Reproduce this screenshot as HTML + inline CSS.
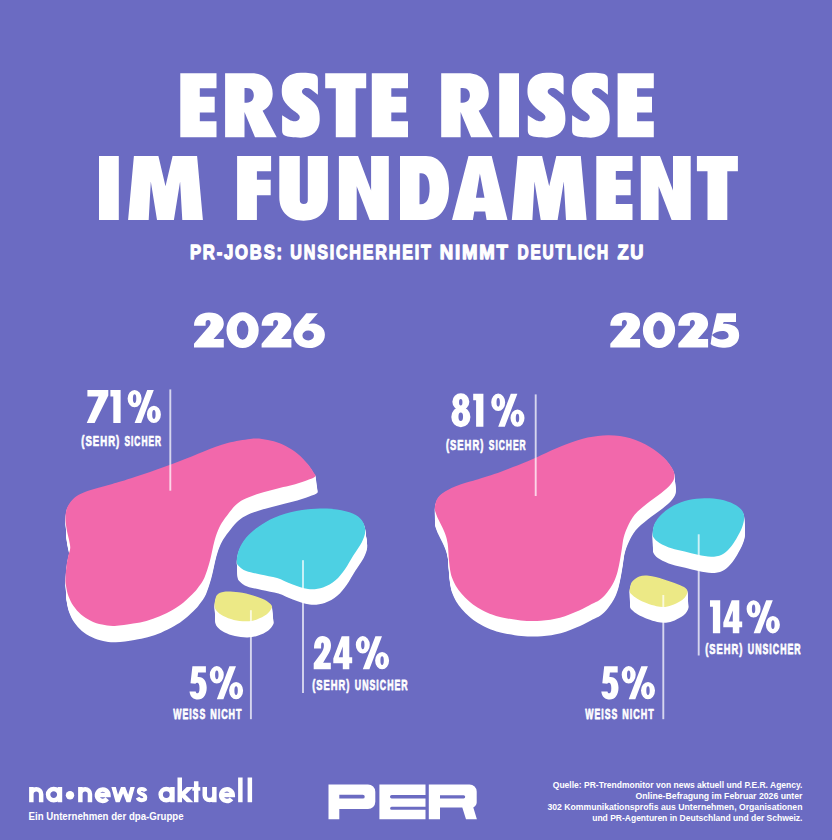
<!DOCTYPE html>
<html><head><meta charset="utf-8"><title>Erste Risse im Fundament</title>
<style>
html,body{margin:0;padding:0;background:#6b6bc2;}
body{width:832px;height:840px;overflow:hidden;font-family:'Liberation Sans', sans-serif;}
svg{display:block;font-family:'Liberation Sans', sans-serif;fill:#fff;}
</style></head><body>
<svg width="832" height="840" viewBox="0 0 832 840">
<rect width="832" height="840" fill="#6b6bc2"/>
<defs><path id="gE" d="M0 0H36.2V15.1H19.5V23.7H34.4V39.4H19.5V48H36.2V64.0H0Z"/><path id="gF" d="M0 0H34V15.2H19.8V23.8H33.6V39.2H19.8V64.0H0Z"/><path id="gT" d="M0 0H41V15.2H30.4V64.0H10.6V15.2H0Z"/><path id="gI" d="M0 0H19.8V64.0H0Z"/><path id="gR" d="M0 0H26.5C40 0 47.6 9 47.6 20.5C47.6 28.5 43.5 34.5 37.5 37.7L51.6 64.0H29.9L19.4 38.9V64.0H0Z M19.4 14.8H21.5C26.7 14.8 28.7 18.3 28.7 22.2C28.7 26.2 26.7 29.6 21.5 29.6H19.4Z"/><path id="gU" d="M0 0H20.5V44A4 4 0 0 0 28.5 44V0H48.6V41C48.6 57 38 64.7 24.3 64.7C10.6 64.7 0 57 0 41Z"/><path id="gN" d="M0.0 0.0L19.2 0.0L32.2 34.6L32.2 0.0L49.9 0.0L49.9 64.0L30.8 64.0L17.8 30.3L17.8 64.0L0.0 64.0Z"/><path id="gD" d="M0 0H26C40 0 49 13 49 32.3C49 51.5 40 64.0 26 64.0H0Z M19.5 17.3H21C27 17.3 29.6 23 29.6 32.3C29.6 42 27 48.3 21 48.3H19.5Z"/><path id="gA" d="M16.5 0.0L39.7 0.0L55.5 64.0L34.6 64.0L33.2 55.6L22.3 55.6L20.9 64.0L0.0 64.0ZM27.9 17.5L32.5 41.7L23.9 41.7Z"/><path id="gM" d="M5.8 0.0L30.3 0.0L37.4 30.2L44.5 0.0L69.0 0.0L74.8 64.0L54.2 64.0L52.0 25.6L45.8 64.0L28.9 64.0L22.7 25.6L20.6 64.0L0.0 64.0Z"/><path id="gS" d="M19.5 -0.3C27.0 -0.3 32.0 0.4 34.0 1.3C36.0 2.3 36.6 4.0 36.6 6.5L36.6 21.5L29.5 16.1C27.5 14.7 25.0 14.4 23.2 15.1C20.8 16.1 20.0 18.3 21.2 20.2C22.5 22.1 27.0 24.5 30.0 27.2C34.0 30.6 36.5 33.6 37.5 37.5C38.4 41.0 38.5 44.4 38.4 47.4C38.2 57.3 31.0 64.5 19.5 64.5C12.0 64.5 6.5 63.7 3.5 62.4C1.5 61.4 0.8 59.7 0.8 57.3L0.8 42.1L8.0 46.7C10.5 48.2 13.5 48.6 15.5 47.8C18.3 46.7 19.2 44.2 17.8 42.1C16.5 40.1 12.0 37.5 9.0 34.9C5.0 31.1 2.0 27.7 1.1 23.7C0.4 20.8 0.4 18.3 0.5 15.9C0.8 6.0 8.0 -0.3 19.5 -0.3Z"/></defs>
<g fill="#fff" fill-rule="evenodd" role="img" aria-label="ERSTE RISSE IM FUNDAMENT"><title>ERSTE RISSE IM FUNDAMENT</title>
<use href="#gE" x="180.3" y="73.15"/>
<use href="#gR" x="225.1" y="73.15"/>
<use href="#gS" x="281.3" y="73.15"/>
<use href="#gT" x="325.2" y="73.15"/>
<use href="#gE" x="371.8" y="73.15"/>
<use href="#gR" x="441.2" y="73.15"/>
<use href="#gI" x="499.2" y="73.15"/>
<use href="#gS" x="527.0" y="73.15"/>
<use href="#gS" x="571.3" y="73.15"/>
<use href="#gE" x="617.6" y="73.15"/>
<use href="#gI" x="99.0" y="155.95"/>
<use href="#gM" x="128.1" y="155.95"/>
<use href="#gF" x="237.1" y="155.95"/>
<use href="#gU" x="279.3" y="155.95"/>
<use href="#gN" x="338.9" y="155.95"/>
<use href="#gD" x="400.0" y="155.95"/>
<use href="#gA" x="452.0" y="155.95"/>
<use href="#gM" x="511.8" y="155.95"/>
<use href="#gE" x="596.3" y="155.95"/>
<use href="#gN" x="640.8" y="155.95"/>
<use href="#gT" x="696.9" y="155.95"/>
</g>
<text transform="translate(189.94 258.55) scale(0.7906 1)" font-size="21.08" font-weight="bold" letter-spacing="2.277" style="font-kerning:none" stroke="#fff" stroke-width="1.30" stroke-linejoin="round" >PR-JOBS:</text>
<text transform="translate(290.28 258.55) scale(0.7638 1)" font-size="21.08" font-weight="bold" letter-spacing="2.357" style="font-kerning:none" stroke="#fff" stroke-width="1.30" stroke-linejoin="round" >UNSICHERHEIT</text>
<text transform="translate(439.71 258.55) scale(0.8825 1)" font-size="21.08" font-weight="bold" letter-spacing="2.040" style="font-kerning:none" stroke="#fff" stroke-width="1.30" stroke-linejoin="round" >NIMMT</text>
<text transform="translate(517.52 258.55) scale(0.7318 1)" font-size="21.08" font-weight="bold" letter-spacing="2.460" style="font-kerning:none" stroke="#fff" stroke-width="1.30" stroke-linejoin="round" >DEUTLICH</text>
<text transform="translate(617.41 258.55) scale(0.8671 1)" font-size="21.08" font-weight="bold" letter-spacing="2.076" style="font-kerning:none" stroke="#fff" stroke-width="1.30" stroke-linejoin="round" >ZU</text>
<defs><path id="y2" d="M0 13C0 5 6 -0.2 15 -0.2C24.5 -0.2 29.8 4.5 29.8 10.8C29.8 15 27.5 17.5 24.5 20.6L19.5 26.3H29.8V34.7H0V31L13.2 15.8C15.3 13.5 16.6 12 16.6 10.3C16.6 8.3 15.6 7.3 14.2 7.3C12.5 7.3 11.6 8.5 11.6 10.5V13Z"/><path id="y0" d="M0.00 17.40A16.10 17.90 0 1 1 32.20 17.40A16.10 17.90 0 1 1 0.00 17.40M10.30 17.40A5.80 9.60 0 1 0 21.90 17.40A5.80 9.60 0 1 0 10.30 17.40"/><path id="y6" d="M13 0.4H24.6L15.1 11.2C17 10.6 19 10.4 21 10.8C27 12 31.6 16 31.6 21.9C31.6 30 24.5 35.3 15.7 35.3C7 35.3 0 30 0 21C0 17 2 13.5 4.5 10.8ZM9.10 22.70A5.80 5.00 0 1 0 20.70 22.70A5.80 5.00 0 1 0 9.10 22.70"/><path id="y5" d="M6.5 0.4H25.7V9.1H13.4L12.6 10.9C19 11 26 12.5 28 17.5C29.3 21 29.2 25 27.7 27.8C25.5 32.5 20.5 35 14.7 35C9 35 3.5 34 0.3 31.3L1.6 22.2Z M1.6 22.1C4 24.5 7 26.5 10.5 26.6C15 26.7 18.3 25.5 18.3 22.9C18.3 20.2 16 18.2 12 18.2C8.5 18.2 4.5 19.5 1.6 22.1Z"/></defs>
<g fill="#fff" role="img" aria-label="2026 2025"><title>2026 / 2025</title><use href="#y2" x="194.0" y="312.8"/><use href="#y0" x="226.5" y="312.8"/><use href="#y2" x="261.6" y="312.8"/><use href="#y6" x="293.3" y="312.8"/><use href="#y2" x="610.3" y="312.8"/><use href="#y0" x="642.9" y="312.8"/><use href="#y2" x="678.3" y="312.8"/><use href="#y5" x="710.3" y="312.8"/></g>
<defs><path id="p26" d="M65.5 519.8C65.4 516.4 65.5 513.2 66.3 510.2C67.1 507.2 68.4 504.5 70.5 501.9C72.6 499.3 75.4 496.8 78.8 494.8C82.2 492.8 86.3 491.5 90.7 490.0C95.1 488.5 99.9 487.4 105.0 485.9C110.1 484.4 113.9 483.5 121.4 481.2C128.9 478.9 140.2 475.3 150.0 471.9C159.8 468.5 171.0 464.4 180.0 461.0C189.0 457.6 195.9 454.4 203.8 451.4C211.7 448.4 219.9 445.2 227.6 443.1C235.3 441.0 244.3 439.7 250.0 439.0C255.7 438.3 258.0 438.5 262.0 438.9C266.0 439.3 269.9 440.1 273.8 441.3C277.8 442.5 281.7 444.0 285.7 446.1C289.7 448.2 294.0 450.9 297.6 453.8C301.2 456.7 304.5 460.3 307.1 463.3C309.7 466.3 311.8 469.5 313.1 471.7C314.5 473.9 316.2 475.0 315.2 476.4C314.2 477.8 310.4 478.9 307.1 480.2C303.8 481.5 299.2 483.0 295.2 484.2C291.2 485.4 287.5 486.1 283.3 487.1C279.1 488.2 274.4 489.3 270.0 490.5C265.6 491.7 261.1 492.8 256.7 494.3C252.3 495.8 247.2 497.7 243.6 499.6C240.0 501.5 238.0 502.9 235.2 505.6C232.4 508.3 229.4 512.4 226.9 515.7C224.4 519.0 222.3 521.6 220.4 525.2C218.5 528.8 216.9 533.1 215.6 537.1C214.3 541.1 213.6 544.8 212.6 549.0C211.6 553.2 211.0 557.3 209.6 562.1C208.2 566.9 206.2 573.9 204.3 578.0C202.5 582.1 200.2 584.6 198.5 587.0C196.8 589.4 196.5 589.9 194.0 592.5C191.5 595.1 187.0 599.5 183.5 602.4C180.0 605.3 176.9 607.4 172.9 609.7C168.9 612.0 164.1 614.4 159.7 616.3C155.3 618.2 150.8 619.7 146.4 620.9C142.0 622.1 138.5 622.7 133.2 623.5C127.9 624.3 119.9 625.7 114.7 625.9C109.5 626.1 106.0 625.4 102.1 624.6C98.2 623.8 94.6 622.6 91.1 620.9C87.6 619.2 83.9 617.0 81.0 614.5C78.1 612.0 75.6 609.2 73.5 606.1C71.4 603.0 69.7 599.5 68.4 596.0C67.1 592.5 66.4 588.1 65.9 585.1C65.4 582.1 65.4 581.1 65.5 578.1C65.6 575.1 65.9 571.0 66.3 567.4C66.7 563.8 67.4 559.9 68.1 556.7C68.8 553.5 70.0 550.9 70.2 548.3C70.4 545.7 69.8 544.2 69.3 541.2C68.8 538.2 67.5 534.1 66.9 530.5C66.3 526.9 65.6 523.2 65.5 519.8Z"/></defs>
<g fill="#fff">
<use href="#p26" transform="matrix(1.00561 0 0 1 0.433 16.400)"/>
<use href="#p26" transform="matrix(1.00526 0 0 1 0.406 15.375)"/>
<use href="#p26" transform="matrix(1.00491 0 0 1 0.379 14.350)"/>
<use href="#p26" transform="matrix(1.00456 0 0 1 0.352 13.325)"/>
<use href="#p26" transform="matrix(1.00421 0 0 1 0.325 12.300)"/>
<use href="#p26" transform="matrix(1.00385 0 0 1 0.298 11.275)"/>
<use href="#p26" transform="matrix(1.00350 0 0 1 0.270 10.250)"/>
<use href="#p26" transform="matrix(1.00315 0 0 1 0.243 9.225)"/>
<use href="#p26" transform="matrix(1.00280 0 0 1 0.216 8.200)"/>
<use href="#p26" transform="matrix(1.00245 0 0 1 0.189 7.175)"/>
<use href="#p26" transform="matrix(1.00210 0 0 1 0.162 6.150)"/>
<use href="#p26" transform="matrix(1.00175 0 0 1 0.135 5.125)"/>
<use href="#p26" transform="matrix(1.00140 0 0 1 0.108 4.100)"/>
<use href="#p26" transform="matrix(1.00105 0 0 1 0.081 3.075)"/>
<use href="#p26" transform="matrix(1.00070 0 0 1 0.054 2.050)"/>
<use href="#p26" transform="matrix(1.00035 0 0 1 0.027 1.025)"/>
</g>
<use href="#p26" fill="#f268ab"/>
<defs><path id="c26" d="M236.7 561.4C236.7 558.6 237.4 553.5 239.0 549.5C240.6 545.5 243.0 541.4 246.2 537.6C249.4 533.8 253.3 530.3 258.1 526.9C262.9 523.5 268.5 520.0 274.8 517.4C281.1 514.8 288.7 512.5 296.2 511.0C303.7 509.5 312.5 508.7 320.0 508.6C327.5 508.5 335.4 509.1 341.4 510.2C347.3 511.3 352.1 513.0 355.7 515.0C359.3 517.0 361.3 519.3 362.9 522.1C364.5 524.9 365.4 528.3 365.2 531.7C365.0 535.1 363.7 538.4 361.7 542.4C359.7 546.4 356.1 551.0 353.3 555.5C350.5 560.0 347.8 565.3 344.8 569.4C341.8 573.5 339.1 577.2 335.5 580.2C331.9 583.2 327.6 585.9 323.0 587.4C318.4 588.9 313.4 589.6 308.1 589.0C302.8 588.4 296.6 585.8 291.4 584.0C286.2 582.2 282.2 579.7 277.1 578.1C272.0 576.5 265.6 575.7 260.5 574.5C255.3 573.3 249.8 572.4 246.2 571.0C242.6 569.6 240.6 567.8 239.0 566.2C237.4 564.6 236.7 564.2 236.7 561.4Z"/></defs>
<g fill="#fff">
<use href="#c26" transform="matrix(1.00778 0 0 1 -0.842 15.500)"/>
<use href="#c26" transform="matrix(1.00730 0 0 1 -0.789 14.531)"/>
<use href="#c26" transform="matrix(1.00681 0 0 1 -0.737 13.562)"/>
<use href="#c26" transform="matrix(1.00632 0 0 1 -0.684 12.594)"/>
<use href="#c26" transform="matrix(1.00584 0 0 1 -0.632 11.625)"/>
<use href="#c26" transform="matrix(1.00535 0 0 1 -0.579 10.656)"/>
<use href="#c26" transform="matrix(1.00486 0 0 1 -0.526 9.688)"/>
<use href="#c26" transform="matrix(1.00438 0 0 1 -0.474 8.719)"/>
<use href="#c26" transform="matrix(1.00389 0 0 1 -0.421 7.750)"/>
<use href="#c26" transform="matrix(1.00340 0 0 1 -0.368 6.781)"/>
<use href="#c26" transform="matrix(1.00292 0 0 1 -0.316 5.812)"/>
<use href="#c26" transform="matrix(1.00243 0 0 1 -0.263 4.844)"/>
<use href="#c26" transform="matrix(1.00195 0 0 1 -0.211 3.875)"/>
<use href="#c26" transform="matrix(1.00146 0 0 1 -0.158 2.906)"/>
<use href="#c26" transform="matrix(1.00097 0 0 1 -0.105 1.938)"/>
<use href="#c26" transform="matrix(1.00049 0 0 1 -0.053 0.969)"/>
</g>
<use href="#c26" fill="#4dd0e3"/>
<defs><path id="y26" d="M214.6 606.0C214.4 604.1 214.8 601.4 215.3 599.5C215.8 597.6 216.0 595.7 217.5 594.4C219.0 593.1 220.7 592.1 224.2 591.7C227.7 591.4 233.9 591.7 238.7 592.3C243.5 592.9 248.8 594.2 253.1 595.4C257.4 596.6 261.6 598.1 264.6 599.7C267.6 601.3 270.2 603.5 271.3 605.0C272.4 606.5 272.1 607.2 271.3 608.8C270.5 610.4 268.9 612.8 266.5 614.6C264.1 616.4 260.3 618.3 256.9 619.4C253.5 620.5 250.2 621.2 246.3 621.3C242.5 621.4 237.6 620.8 233.8 619.9C230.0 619.0 226.2 617.6 223.3 616.1C220.4 614.6 217.9 612.5 216.5 610.8C215.1 609.1 214.8 607.9 214.6 606.0Z"/></defs>
<g fill="#fff">
<use href="#y26" transform="matrix(1.01411 0 0 1 -2.228 16.200)"/>
<use href="#y26" transform="matrix(1.01323 0 0 1 -2.089 15.188)"/>
<use href="#y26" transform="matrix(1.01235 0 0 1 -1.949 14.175)"/>
<use href="#y26" transform="matrix(1.01146 0 0 1 -1.810 13.162)"/>
<use href="#y26" transform="matrix(1.01058 0 0 1 -1.671 12.150)"/>
<use href="#y26" transform="matrix(1.00970 0 0 1 -1.532 11.137)"/>
<use href="#y26" transform="matrix(1.00882 0 0 1 -1.392 10.125)"/>
<use href="#y26" transform="matrix(1.00794 0 0 1 -1.253 9.112)"/>
<use href="#y26" transform="matrix(1.00705 0 0 1 -1.114 8.100)"/>
<use href="#y26" transform="matrix(1.00617 0 0 1 -0.975 7.087)"/>
<use href="#y26" transform="matrix(1.00529 0 0 1 -0.835 6.075)"/>
<use href="#y26" transform="matrix(1.00441 0 0 1 -0.696 5.062)"/>
<use href="#y26" transform="matrix(1.00353 0 0 1 -0.557 4.050)"/>
<use href="#y26" transform="matrix(1.00265 0 0 1 -0.418 3.037)"/>
<use href="#y26" transform="matrix(1.00176 0 0 1 -0.278 2.025)"/>
<use href="#y26" transform="matrix(1.00088 0 0 1 -0.139 1.012)"/>
</g>
<use href="#y26" fill="#ece986"/>
<defs><path id="p25" d="M434.8 508.5C434.8 506.1 435.5 502.6 436.5 500.2C437.5 497.8 438.8 496.2 440.9 494.4C442.9 492.6 445.4 491.1 448.8 489.4C452.2 487.7 456.6 485.9 461.0 484.3C465.4 482.7 468.8 482.1 475.5 480.0C482.2 477.9 492.4 474.8 501.0 471.7C509.6 468.6 519.6 464.7 527.1 461.6C534.6 458.5 539.7 455.8 546.0 453.0C552.3 450.2 558.1 447.4 565.0 444.8C571.9 442.2 580.3 439.2 587.6 437.6C594.9 436.0 601.9 435.1 609.0 435.2C616.1 435.3 623.8 436.4 630.5 438.3C637.2 440.2 644.0 443.5 649.5 446.7C655.0 449.9 660.0 453.8 663.8 457.4C667.6 461.0 670.3 464.9 672.1 468.1C673.9 471.3 674.7 473.8 674.5 476.4C674.3 479.0 673.2 481.2 671.0 484.0C668.8 486.8 665.1 490.0 661.0 493.3C656.9 496.6 650.9 500.4 646.5 504.0C642.1 507.6 637.8 511.0 634.6 514.8C631.5 518.6 629.4 523.1 627.6 526.8C625.8 530.5 624.8 533.5 623.8 537.1C622.8 540.7 622.5 544.8 621.9 548.6C621.3 552.4 620.7 556.2 620.0 560.0C619.3 563.8 618.6 567.8 617.6 571.4C616.6 575.0 615.5 578.4 613.8 581.9C612.0 585.4 609.5 589.4 607.1 592.4C604.7 595.4 602.1 598.1 599.5 600.0C596.9 601.9 595.1 602.2 591.7 604.0C588.3 605.8 584.5 608.3 579.2 610.6C573.9 612.9 566.4 616.1 560.0 617.8C553.6 619.5 547.5 620.3 541.0 620.8C534.5 621.2 527.6 621.1 520.8 620.5C514.0 619.9 505.6 618.2 500.0 616.9C494.4 615.6 490.6 614.1 486.9 612.5C483.1 610.9 480.5 609.4 477.5 607.5C474.5 605.6 471.4 603.3 468.8 601.0C466.2 598.7 463.8 596.3 461.6 593.8C459.5 591.3 457.5 588.7 455.9 585.9C454.3 583.1 452.8 579.8 451.9 577.2C450.9 574.6 450.7 573.1 450.2 570.5C449.7 567.9 449.4 564.8 449.1 561.8C448.8 558.8 448.6 555.4 448.4 552.4C448.2 549.4 448.1 546.5 447.7 543.8C447.3 541.0 446.8 538.7 445.9 535.9C445.0 533.1 443.5 529.9 442.3 527.2C441.1 524.6 439.7 522.1 438.7 520.0C437.7 517.9 436.9 516.4 436.3 514.5C435.7 512.6 434.8 510.9 434.8 508.5Z"/></defs>
<g fill="#fff">
<use href="#p25" transform="matrix(1.00459 0 0 1 -1.795 15.500)"/>
<use href="#p25" transform="matrix(1.00430 0 0 1 -1.683 14.531)"/>
<use href="#p25" transform="matrix(1.00402 0 0 1 -1.571 13.562)"/>
<use href="#p25" transform="matrix(1.00373 0 0 1 -1.459 12.594)"/>
<use href="#p25" transform="matrix(1.00344 0 0 1 -1.346 11.625)"/>
<use href="#p25" transform="matrix(1.00315 0 0 1 -1.234 10.656)"/>
<use href="#p25" transform="matrix(1.00287 0 0 1 -1.122 9.688)"/>
<use href="#p25" transform="matrix(1.00258 0 0 1 -1.010 8.719)"/>
<use href="#p25" transform="matrix(1.00229 0 0 1 -0.898 7.750)"/>
<use href="#p25" transform="matrix(1.00201 0 0 1 -0.785 6.781)"/>
<use href="#p25" transform="matrix(1.00172 0 0 1 -0.673 5.812)"/>
<use href="#p25" transform="matrix(1.00143 0 0 1 -0.561 4.844)"/>
<use href="#p25" transform="matrix(1.00115 0 0 1 -0.449 3.875)"/>
<use href="#p25" transform="matrix(1.00086 0 0 1 -0.337 2.906)"/>
<use href="#p25" transform="matrix(1.00057 0 0 1 -0.224 1.938)"/>
<use href="#p25" transform="matrix(1.00029 0 0 1 -0.112 0.969)"/>
</g>
<use href="#p25" fill="#f268ab"/>
<defs><path id="c25" d="M652.7 532.3C652.9 529.9 653.3 526.2 654.9 523.1C656.5 520.0 659.0 516.8 662.2 513.8C665.4 510.8 669.7 507.5 674.1 505.2C678.5 502.9 683.5 501.1 688.6 499.9C693.7 498.7 699.2 498.3 704.5 498.2C709.8 498.1 715.5 498.6 720.4 499.5C725.2 500.4 730.1 502.2 733.6 503.9C737.1 505.6 739.7 507.6 741.5 509.8C743.3 512.0 744.1 514.2 744.2 517.1C744.3 520.0 743.5 523.4 742.2 527.0C740.9 530.6 738.3 535.4 736.2 538.9C734.1 542.4 732.0 545.6 729.6 548.2C727.2 550.9 724.8 553.4 721.7 554.8C718.6 556.2 715.1 556.8 711.1 556.8C707.1 556.8 702.3 555.7 697.9 554.8C693.5 553.9 689.1 552.6 684.7 551.5C680.3 550.4 675.6 549.6 671.4 548.2C667.2 546.8 662.5 544.7 659.5 542.9C656.5 541.1 654.7 539.4 653.6 537.6C652.5 535.8 652.5 534.7 652.7 532.3Z"/></defs>
<g fill="#fff">
<use href="#c25" transform="matrix(1.00437 0 0 1 -2.453 16.300)"/>
<use href="#c25" transform="matrix(1.00410 0 0 1 -2.300 15.281)"/>
<use href="#c25" transform="matrix(1.00383 0 0 1 -2.147 14.263)"/>
<use href="#c25" transform="matrix(1.00355 0 0 1 -1.993 13.244)"/>
<use href="#c25" transform="matrix(1.00328 0 0 1 -1.840 12.225)"/>
<use href="#c25" transform="matrix(1.00301 0 0 1 -1.687 11.206)"/>
<use href="#c25" transform="matrix(1.00273 0 0 1 -1.533 10.188)"/>
<use href="#c25" transform="matrix(1.00246 0 0 1 -1.380 9.169)"/>
<use href="#c25" transform="matrix(1.00219 0 0 1 -1.227 8.150)"/>
<use href="#c25" transform="matrix(1.00191 0 0 1 -1.073 7.131)"/>
<use href="#c25" transform="matrix(1.00164 0 0 1 -0.920 6.113)"/>
<use href="#c25" transform="matrix(1.00137 0 0 1 -0.767 5.094)"/>
<use href="#c25" transform="matrix(1.00109 0 0 1 -0.613 4.075)"/>
<use href="#c25" transform="matrix(1.00082 0 0 1 -0.460 3.056)"/>
<use href="#c25" transform="matrix(1.00055 0 0 1 -0.307 2.038)"/>
<use href="#c25" transform="matrix(1.00027 0 0 1 -0.153 1.019)"/>
</g>
<use href="#c25" fill="#4dd0e3"/>
<defs><path id="y25" d="M629.6 591.0C629.5 589.5 630.1 586.8 630.6 585.2C631.1 583.6 631.1 582.8 632.5 581.3C633.9 579.8 636.5 577.4 639.2 576.5C641.9 575.6 644.8 575.3 648.8 575.8C652.8 576.2 658.5 577.8 663.3 579.2C668.1 580.6 674.0 582.8 677.7 584.2C681.4 585.7 683.8 586.7 685.4 587.9C687.0 589.1 687.4 590.2 687.5 591.4C687.6 592.6 687.1 593.9 686.3 595.3C685.5 596.7 684.6 598.2 682.5 599.8C680.4 601.3 676.7 603.4 673.8 604.6C670.9 605.8 668.1 606.6 665.2 606.9C662.3 607.2 659.5 606.8 656.5 606.2C653.5 605.6 650.1 604.5 646.9 603.3C643.7 602.0 639.9 600.2 637.3 598.7C634.7 597.2 632.8 595.6 631.5 594.3C630.2 593.0 629.8 592.5 629.6 591.0Z"/></defs>
<g fill="#fff">
<use href="#y25" transform="matrix(1.00691 0 0 1 -3.850 15.800)"/>
<use href="#y25" transform="matrix(1.00648 0 0 1 -3.609 14.812)"/>
<use href="#y25" transform="matrix(1.00604 0 0 1 -3.368 13.825)"/>
<use href="#y25" transform="matrix(1.00561 0 0 1 -3.128 12.838)"/>
<use href="#y25" transform="matrix(1.00518 0 0 1 -2.887 11.850)"/>
<use href="#y25" transform="matrix(1.00475 0 0 1 -2.647 10.863)"/>
<use href="#y25" transform="matrix(1.00432 0 0 1 -2.406 9.875)"/>
<use href="#y25" transform="matrix(1.00389 0 0 1 -2.165 8.888)"/>
<use href="#y25" transform="matrix(1.00345 0 0 1 -1.925 7.900)"/>
<use href="#y25" transform="matrix(1.00302 0 0 1 -1.684 6.913)"/>
<use href="#y25" transform="matrix(1.00259 0 0 1 -1.444 5.925)"/>
<use href="#y25" transform="matrix(1.00216 0 0 1 -1.203 4.938)"/>
<use href="#y25" transform="matrix(1.00173 0 0 1 -0.962 3.950)"/>
<use href="#y25" transform="matrix(1.00130 0 0 1 -0.722 2.963)"/>
<use href="#y25" transform="matrix(1.00086 0 0 1 -0.481 1.975)"/>
<use href="#y25" transform="matrix(1.00043 0 0 1 -0.241 0.988)"/>
</g>
<use href="#y25" fill="#ece986"/>
<rect x="169.35" y="389.4" width="1.90" height="101.3" fill="#fff" fill-opacity="0.72"/>
<rect x="302.05" y="560.2" width="1.90" height="132.8" fill="#fff" fill-opacity="0.72"/>
<rect x="249.95" y="610.2" width="1.90" height="109.0" fill="#fff" fill-opacity="0.72"/>
<rect x="534.75" y="394.4" width="1.90" height="101.6" fill="#fff" fill-opacity="0.72"/>
<rect x="697.75" y="534.3" width="1.90" height="121.2" fill="#fff" fill-opacity="0.72"/>
<rect x="662.35" y="595.0" width="1.90" height="124.2" fill="#fff" fill-opacity="0.72"/>
<defs><path id="d7" d="M0.7 0H21.6V5.5L7.9 33H0L11.9 6.5H0.7Z"/><path id="d1" d="M0 0H10.2V33H2.9V6.5H0Z"/><path id="d2" d="M0.3 12.4C0.3 4 4 -0.2 8.8 -0.2C13.8 -0.2 17.3 3.5 17.3 9C17.3 12.5 16.5 14.5 15.2 16.8L9.4 26.6H17.1V33H0V27L7.8 16.5C9.3 14 10.2 11.8 10.2 9.5C10.2 7.5 9.7 6.4 8.8 6.4C7.8 6.4 7.4 7.6 7.4 9.5V12.4Z"/><path id="d4" d="M8.4 0H16V21.1H18.9V27H16V33H9.5V27H0V22.2Z M9.5 10.3L5.4 21.1H9.5Z"/><path id="d5" d="M2.9 0H16.4V6.3H8.6L8.1 10.8C13.5 10 17.2 14.5 17.2 21.5C17.2 28.5 13.8 33.3 8.5 33.3C4 33.3 0.5 30.5 0 25.2H6.2C6.4 26.5 7 27.1 8 27.1C9.3 27.1 10 25.2 10 22C10 18.5 9.2 16.6 7.6 16.6C6.8 16.6 6.3 17 6 17.6L1 17Z"/><path id="d8" d="M1.05 8.10A8.50 8.50 0 1 1 18.05 8.10A8.50 8.50 0 1 1 1.05 8.10M0.00 23.30A9.55 10.20 0 1 1 19.10 23.30A9.55 10.20 0 1 1 0.00 23.30M7.75 8.60A1.70 3.30 0 1 0 11.15 8.60A1.70 3.30 0 1 0 7.75 8.60M7.15 23.00A2.30 4.20 0 1 0 11.75 23.00A2.30 4.20 0 1 0 7.15 23.00"/><path id="dp" d="M0.00 8.60A7.00 8.70 0 1 1 14.00 8.60A7.00 8.70 0 1 1 0.00 8.60M5.30 8.60A1.70 4.40 0 1 0 8.70 8.60A1.70 4.40 0 1 0 5.30 8.60M19.30 24.40A7.00 8.70 0 1 1 33.30 24.40A7.00 8.70 0 1 1 19.30 24.40M24.60 24.40A1.70 4.40 0 1 0 28.00 24.40A1.70 4.40 0 1 0 24.60 24.40M19.6 0H26.2L13.6 33H7Z"/></defs>
<g fill="#fff">
<g role="img" aria-label="71%"><title>71%</title><use href="#d7" x="86.7" y="390.0"/><use href="#d1" x="110.4" y="390.0"/><use href="#dp" x="127.6" y="390.0"/></g>
<g role="img" aria-label="24%"><title>24%</title><use href="#d2" x="313.7" y="636.2"/><use href="#d4" x="333.3" y="636.2"/><use href="#dp" x="355.8" y="636.2"/></g>
<g role="img" aria-label="5%"><title>5%</title><use href="#d5" x="189.5" y="666.2"/><use href="#dp" x="209.8" y="666.2"/></g>
<g role="img" aria-label="81%"><title>81%</title><use href="#d8" x="451.3" y="393.7"/><use href="#d1" x="473.2" y="393.7"/><use href="#dp" x="491.2" y="393.7"/></g>
<g role="img" aria-label="14%"><title>14%</title><use href="#d1" x="710.0" y="600.3"/><use href="#d4" x="723.3" y="600.3"/><use href="#dp" x="746.6" y="600.3"/></g>
<g role="img" aria-label="5%"><title>5%</title><use href="#d5" x="601.3" y="666.2"/><use href="#dp" x="621.7" y="666.2"/></g>
</g>
<text transform="translate(81.20 445.73) scale(0.6515 1)" font-size="14.75" font-weight="bold" letter-spacing="1.535" style="font-kerning:none" stroke="#fff" stroke-width="0.75" stroke-linejoin="round" >(SEHR)</text>
<text transform="translate(124.43 445.73) scale(0.5680 1)" font-size="14.75" font-weight="bold" letter-spacing="1.760" style="font-kerning:none" stroke="#fff" stroke-width="0.75" stroke-linejoin="round" >SICHER</text>
<text transform="translate(312.21 689.73) scale(0.6151 1)" font-size="15.19" font-weight="bold" letter-spacing="1.626" style="font-kerning:none" stroke="#fff" stroke-width="0.75" stroke-linejoin="round" >(SEHR)</text>
<text transform="translate(354.85 689.73) scale(0.5781 1)" font-size="15.19" font-weight="bold" letter-spacing="1.730" style="font-kerning:none" stroke="#fff" stroke-width="0.75" stroke-linejoin="round" >UNSICHER</text>
<text transform="translate(173.17 718.83) scale(0.5686 1)" font-size="15.33" font-weight="bold" letter-spacing="1.759" style="font-kerning:none" stroke="#fff" stroke-width="0.75" stroke-linejoin="round" >WEISS</text>
<text transform="translate(210.17 718.83) scale(0.5859 1)" font-size="15.33" font-weight="bold" letter-spacing="1.707" style="font-kerning:none" stroke="#fff" stroke-width="0.75" stroke-linejoin="round" >NICHT</text>
<text transform="translate(445.91 449.73) scale(0.6394 1)" font-size="14.75" font-weight="bold" letter-spacing="1.564" style="font-kerning:none" stroke="#fff" stroke-width="0.75" stroke-linejoin="round" >(SEHR)</text>
<text transform="translate(488.83 449.73) scale(0.5717 1)" font-size="14.75" font-weight="bold" letter-spacing="1.749" style="font-kerning:none" stroke="#fff" stroke-width="0.75" stroke-linejoin="round" >SICHER</text>
<text transform="translate(705.21 653.73) scale(0.6151 1)" font-size="15.19" font-weight="bold" letter-spacing="1.626" style="font-kerning:none" stroke="#fff" stroke-width="0.75" stroke-linejoin="round" >(SEHR)</text>
<text transform="translate(747.85 653.73) scale(0.5781 1)" font-size="15.19" font-weight="bold" letter-spacing="1.730" style="font-kerning:none" stroke="#fff" stroke-width="0.75" stroke-linejoin="round" >UNSICHER</text>
<text transform="translate(585.37 718.83) scale(0.5666 1)" font-size="15.33" font-weight="bold" letter-spacing="1.765" style="font-kerning:none" stroke="#fff" stroke-width="0.75" stroke-linejoin="round" >WEISS</text>
<text transform="translate(622.27 718.83) scale(0.5859 1)" font-size="15.33" font-weight="bold" letter-spacing="1.707" style="font-kerning:none" stroke="#fff" stroke-width="0.75" stroke-linejoin="round" >NICHT</text>
<g role="img" aria-label="na news aktuell"><title>na•news aktuell</title>
<g fill="none" stroke="#fff" stroke-width="4.5">
<path d="M31.35 802.20V787.00 M31.35 794.15A4.90 4.90 0 0 1 41.15 794.15V802.20 M59.95 787.00V802.20 M48.05 794.60a5.65 5.65 0 1 0 11.30 0a5.65 5.65 0 1 0 -11.30 0 M80.35 802.20V787.00 M80.35 794.05A4.80 4.80 0 0 1 89.95 794.05V802.20 M96.95 794.90H108.45A5.75 5.75 0 1 0 107.23 798.74 M172.45 787.00V802.20 M160.65 794.60a5.65 5.65 0 1 0 11.30 0a5.65 5.65 0 1 0 -11.30 0 M179.75 777.6V802.2 M196.2 781.3V802.2 M214.35 787.00V802.20 M204.75 787.00V795.15A4.80 4.80 0 0 0 214.35 795.15 M221.15 794.90H232.75A5.80 5.80 0 1 0 231.52 798.77 M240.35 777.6V802.2 M249.85 777.6V802.2"/>
<path d="M192.3 788.9H200.3" stroke-width="3.6"/>
</g>
<clipPath id="xh"><rect x="100" y="787.0" width="100" height="15.2"/></clipPath>
<g fill="none" stroke="#fff" clip-path="url(#xh)" stroke-miterlimit="10">
<path d="M113.0 785L117.7 801.5L123.1 787.5L128.5 801.5L133.2 785" stroke-width="4.3"/>
<path d="M191.5 785.5L182.3 794.6L192.2 804.5" stroke-width="4.6"/>
</g>
<path d="M145.6 791.2C144.8 789.7 143.6 789 141.9 789C139.9 789 138.8 790 138.8 791.3C138.8 792.8 140 793.4 142 794.2C144.2 795 145.3 796 145.3 797.6C145.3 799.3 143.9 800.3 141.8 800.3C139.8 800.3 138.4 799.4 137.6 797.7" fill="none" stroke="#fff" stroke-width="3.9"/>
<circle cx="70" cy="795.2" r="4.2" fill="#fff"/>
</g>
<text x="28.6" y="819.8" font-size="10.30" font-weight="bold" text-anchor="start" textLength="155.0" lengthAdjust="spacingAndGlyphs" >Ein Unternehmen der dpa-Gruppe</text>
<g fill="#fff" fill-rule="evenodd" role="img" aria-label="PER"><title>PER</title>
<path d="M328.5 784.4H368A7.3 7.3 0 0 1 375.3 791.7V801.8A7.3 7.3 0 0 1 368 809.1H339.3V819.2H328.5Z M339.3 794.7H362.8A1.95 1.95 0 0 1 362.8 798.6H339.3Z"/>
<path d="M379.4 784.4H425.5V795H391.7A1.7 1.7 0 0 0 391.7 798.4H425.5V806.8H391.6A1.5 1.5 0 0 0 391.6 809.8H425.5V819.2H379.4Z"/>
<path d="M428.8 784.4H469.5A7.2 7.2 0 0 1 476.7 791.6V801A6.5 6.5 0 0 1 473.3 807.5L476.9 819.2H466L462.3 807.5H440V819.2H428.8Z M440 795.2H463.6A1.6 1.6 0 0 1 463.6 798.4H440Z"/>
</g>
<text x="802.5" y="787.9" font-size="8.40" font-weight="bold" text-anchor="end" textLength="249.7" lengthAdjust="spacingAndGlyphs" >Quelle: PR-Trendmonitor von news aktuell und P.E.R. Agency.</text>
<text x="802.5" y="799.1" font-size="8.40" font-weight="bold" text-anchor="end" textLength="167.0" lengthAdjust="spacingAndGlyphs" >Online-Befragung im Februar 2026 unter</text>
<text x="802.5" y="810.4" font-size="8.40" font-weight="bold" text-anchor="end" textLength="255.1" lengthAdjust="spacingAndGlyphs" >302 Kommunikationsprofis aus Unternehmen, Organisationen</text>
<text x="802.5" y="821.4" font-size="8.40" font-weight="bold" text-anchor="end" textLength="210.3" lengthAdjust="spacingAndGlyphs" >und PR-Agenturen in Deutschland und der Schweiz.</text>
</svg>
</body></html>
